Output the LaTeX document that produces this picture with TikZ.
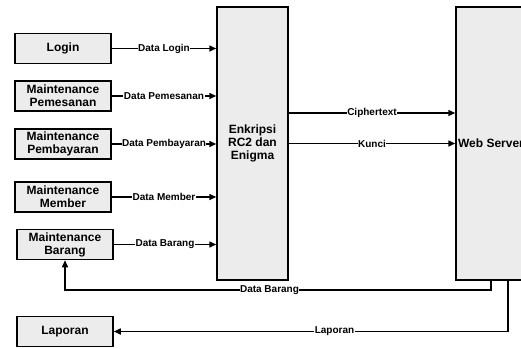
\documentclass[tikz,border=0pt]{standalone}
\usepackage{fontspec}
\setmainfont{Liberation Sans}
\usetikzlibrary{arrows.meta, positioning}
\definecolor{boxgray}{RGB}{236,236,236}

\begin{document}
\begin{tikzpicture}[
    x=1pt, y=-1pt,
    block/.style={rectangle, draw=black, fill=boxgray, line width=1.5pt, minimum width=96pt, minimum height=30pt, align=center, inner sep=1pt, font=\bfseries\fontsize{12}{13}\selectfont},
    big/.style={block, minimum width=71pt, minimum height=273pt},
    lbl/.style={fill=white, inner sep=0.5pt, font=\bfseries\fontsize{10}{11}\selectfont},
    arrow/.style={-{Triangle[length=7pt,width=6pt]}, line width=1.5pt}
]
\path[use as bounding box, clip] (0,0) rectangle (521,348);

% Input modules
\node[block] (login) at (63,48.5) {Login};
\node[block] (pesan) at (63,96) {Maintenance\\Pemesanan};
\node[block] (bayar) at (63,144) {Maintenance\\Pembayaran};
\node[block] (member) at (63,197) {Maintenance\\Member};
\node[block] (barang) at (65,244.5) {Maintenance\\Barang};
\node[block] (laporan) at (65,331.5) {Laporan};

% Processing
\node[big] (enk) at (252.5,143.5) {Enkripsi\\RC2 dan\\Enigma};
\node[big, minimum width=70pt] (ws) at (491,143.5) {Web Server};

% Connections
\draw[arrow] (login) -- node[lbl] {Data Login} (login -| enk.west);
\draw[arrow] (pesan) -- node[lbl] {Data Pemesanan} (pesan -| enk.west);
\draw[arrow] (bayar) -- node[lbl] {Data Pembayaran} (bayar -| enk.west);
\draw[arrow] (member) -- node[lbl] {Data Member} (member -| enk.west);
\draw[arrow] (barang) -- node[lbl] {Data Barang} (barang -| enk.west);

\draw[arrow] ([yshift=30.5pt]enk.east) -- node[lbl] {Ciphertext} ([yshift=30.5pt]ws.west);
\draw[arrow] (enk.east) -- node[lbl] {Kunci} (ws.west);

\draw[arrow] (ws.south) -- ++(0,9) -| node[lbl, pos=0.26] {Data Barang} (barang.south);
\draw[arrow] ([xshift=17pt]ws.south) |- node[lbl, pos=0.72] {Laporan} (laporan.east);

\end{tikzpicture}
\end{document}
